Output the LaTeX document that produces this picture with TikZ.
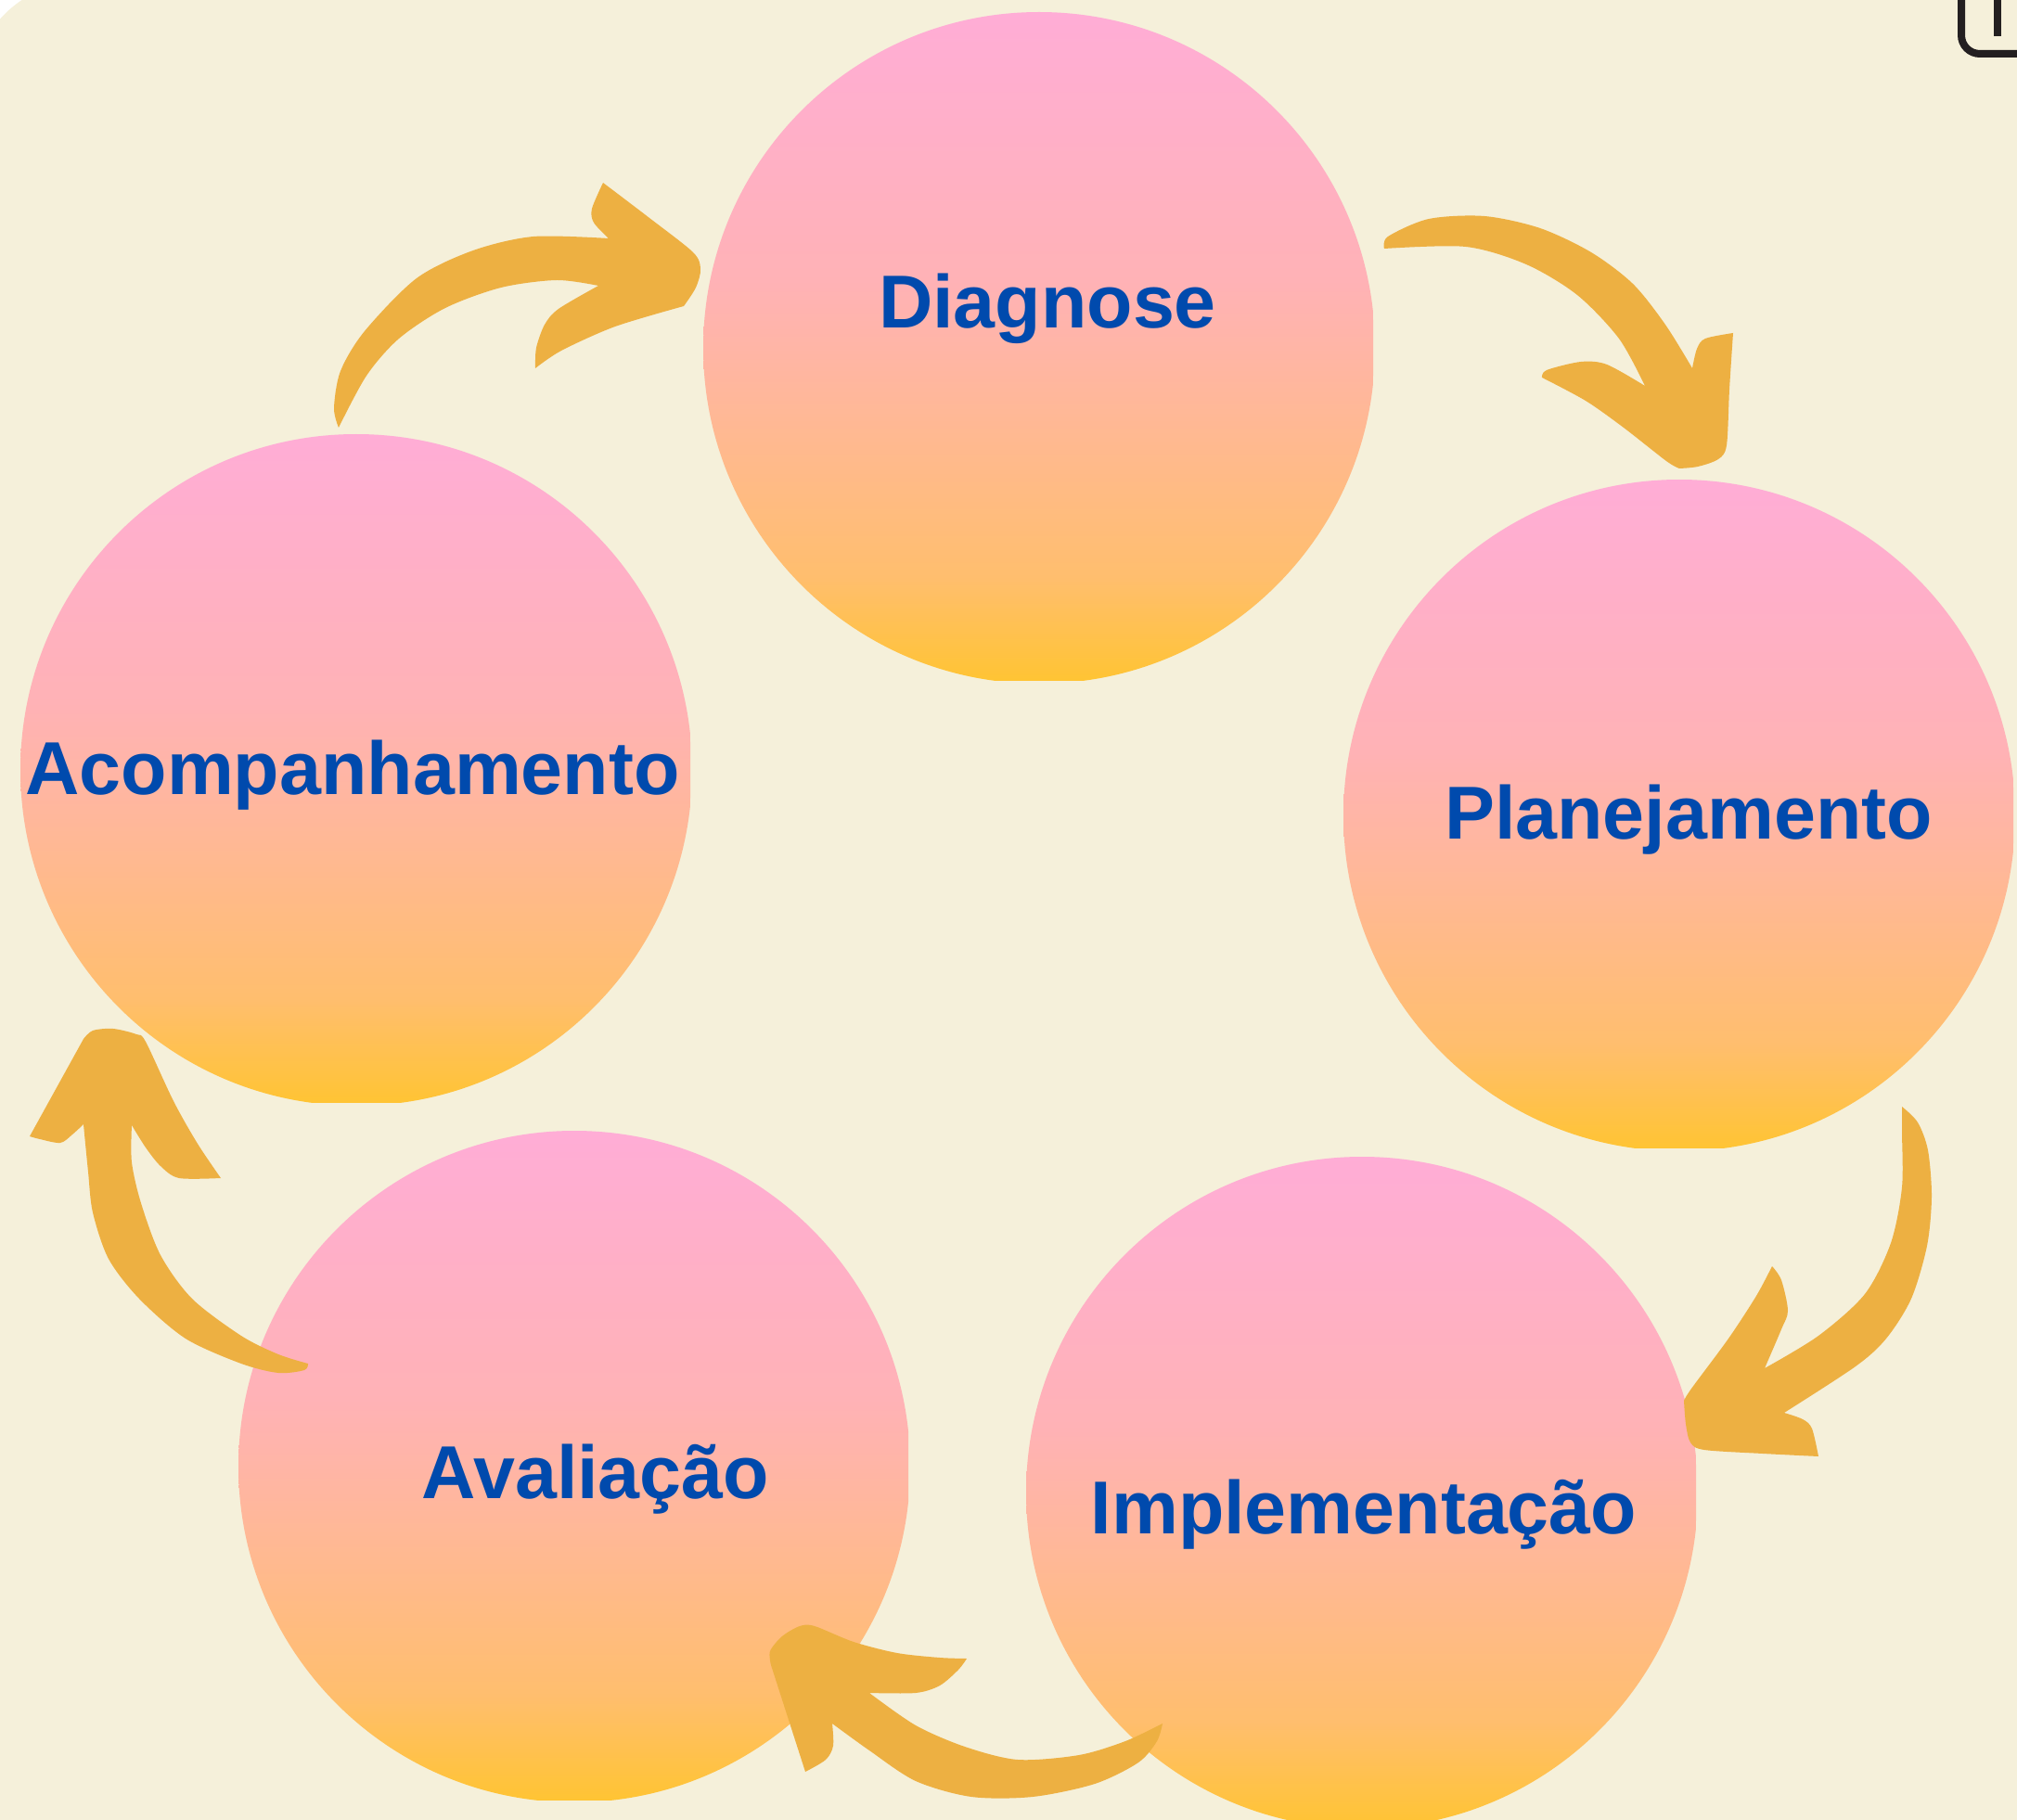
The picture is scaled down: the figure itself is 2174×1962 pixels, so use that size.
\documentclass[tikz,border=0pt]{standalone}
\usepackage{fontspec}
\setmainfont{Liberation Sans}
\usetikzlibrary{positioning}
\definecolor{bgcream}{RGB}{245,240,218}
\definecolor{bubpink}{RGB}{255,173,214}
\definecolor{bubrose}{RGB}{255,178,182}
\definecolor{bubpeach}{RGB}{255,184,150}
\definecolor{buborange}{RGB}{255,190,110}
\definecolor{bubyellow}{RGB}{255,196,50}
\definecolor{arrowgold}{RGB}{237,176,66}
\definecolor{labelblue}{RGB}{0,74,173}
\definecolor{icongray}{RGB}{35,31,32}
\pgfdeclareverticalshading{bubbleshade}{100bp}{color(0bp)=(bubyellow); color(25bp)=(bubyellow); color(33bp)=(buborange); color(45bp)=(bubpeach); color(55bp)=(bubrose); color(75bp)=(bubpink); color(100bp)=(bubpink)}
\tikzset{
  bubble/.style={rectangle, minimum width=72.2mm, minimum height=72.1mm, inner sep=0pt,
    path picture={\shade[shading=bubbleshade] ([xshift=36.2mm,yshift=-36.2mm]path picture bounding box.north west) circle [radius=36.2mm];}},
  stage/.style={anchor=base, inner sep=0pt, text=labelblue, font=\fontsize{23}{27}\selectfont\bfseries},
  swoosh/.style={fill=arrowgold},
  icon/.style={draw=icongray, line width=0.8mm},
}

\begin{document}
\begin{tikzpicture}[x=0.1mm, y=-0.1mm]
  \useasboundingbox (0,0) rectangle (2174,1962);
  \clip (0,0) rectangle (2174,1962);
  \fill[white] (0,0) rectangle (2174,1962);
  \fill[bgcream, rounded corners=12mm] (-30,-20) rectangle (2300,2100);

  \node[bubble] (diag) at (1119,373.5) {};
  \node[bubble] (plan) at (1809,877.5) {};
  \node[bubble] (impl) at (1467,1607.5) {};
  \node[bubble] (aval) at (618,1579.5) {};
  \node[bubble] (acomp) at (383,828.5) {};

  \fill[swoosh] plot[smooth] coordinates {(365,461) (360,440) (367,400) (393,357) (449,300) (510,270) (575,255) (656,257)}
    -- plot[smooth] coordinates {(656,257) (640,240) (638,225) (650,197)}
    -- plot[smooth] coordinates {(650,197) (700,235) (747,272) (755,290) (750,310) (737,330)}
    -- plot[smooth] coordinates {(737,330) (663,352) (605,378) (577,397)}
    -- plot[smooth] coordinates {(577,397) (578,375) (587,350) (602,333) (645,308)}
    -- plot[smooth] coordinates {(645,308) (600,302) (540,310) (480,332) (430,365) (395,405) (365,461)} -- cycle;

  \fill[swoosh] plot[smooth] coordinates {(1492,268) (1496,255) (1540,236) (1600,233) (1660,246) (1715,272) (1760,306) (1795,350) (1824,397)}
    -- plot[smooth] coordinates {(1824,397) (1829,376) (1838,365) (1868,359)}
    -- plot[smooth] coordinates {(1868,359) (1864,420) (1861,480) (1852,495) (1830,503) (1810,505)}
    -- plot[smooth] coordinates {(1810,505) (1796,497) (1750,461) (1709,432) (1662,407)}
    -- plot[smooth] coordinates {(1662,407) (1667,399) (1704,390) (1732,393) (1773,416)}
    -- plot[smooth] coordinates {(1773,416) (1745,365) (1700,318) (1645,285) (1580,266) (1492,268)} -- cycle;

  \fill[swoosh] plot[smooth] coordinates {(2050,1193) (2067,1210) (2078,1240) (2082,1290) (2077,1343) (2060,1400) (2033,1443) (2000,1473) (1923,1523)}
    -- plot[smooth] coordinates {(1923,1523) (1943,1530) (1953,1540) (1960,1570)}
    -- plot[smooth] coordinates {(1960,1570) (1900,1567) (1837,1563) (1822,1555) (1817,1535) (1815,1510)}
    -- plot[smooth] coordinates {(1815,1510) (1823,1497) (1863,1443) (1893,1397) (1910,1365)}
    -- plot[smooth] coordinates {(1910,1365) (1920,1380) (1927,1413) (1920,1433) (1902,1475)}
    -- plot[smooth] coordinates {(1902,1475) (1960,1440) (2010,1395) (2038,1340) (2050,1280) (2050,1220) (2050,1193)} -- cycle;

  \fill[swoosh] plot[smooth] coordinates {(1253,1858) (1213,1877) (1163,1892) (1097,1897) (1040,1883) (987,1860) (937,1825)}
    -- plot[smooth] coordinates {(937,1825) (987,1825) (1013,1817) (1033,1800) (1042,1788)}
    -- plot[smooth] coordinates {(1042,1788) (1013,1787) (967,1782) (920,1770) (878,1753) (862,1753) (843,1764) (830,1780) (831,1795)}
    -- (868,1910)
    -- plot[smooth] coordinates {(868,1910) (890,1897) (898,1882) (897,1858)}
    -- plot[smooth] coordinates {(897,1858) (937,1887) (987,1920) (1047,1937) (1113,1937) (1180,1923) (1227,1900) (1247,1877) (1253,1858)} -- cycle;

  \fill[swoosh] plot[smooth] coordinates {(332,1470) (300,1460) (260,1440) (207,1400) (173,1353) (152,1297) (142,1253) (142,1213)}
    -- plot[smooth] coordinates {(142,1213) (157,1237) (173,1257) (193,1270) (238,1270)}
    -- plot[smooth] coordinates {(238,1270) (213,1233) (187,1187) (157,1123) (147,1115) (122,1109) (100,1111) (90,1120)}
    -- (32,1225)
    -- plot[smooth] coordinates {(32,1225) (43,1228) (65,1232) (78,1223) (90,1212)}
    -- plot[smooth] coordinates {(90,1212) (95,1263) (100,1307) (117,1357) (150,1400) (200,1443) (260,1470) (300,1480) (328,1477) (332,1470)} -- cycle;

  \node[stage] (diaglabel) at (1129,354) {Diagnose};
  \node[stage] (planlabel) at (1820,905) {Planejamento};
  \node[stage] (impllabel) at (1470,1653) {Implementação};
  \node[stage] (avallabel) at (642,1615) {Avaliação};
  \node[stage] (acomplabel) at (380,857) {Acompanhamento};

  \draw[icon, rounded corners=2mm] (2114,-20) -- (2114,58) -- (2200,58);
  \draw[icon] (2153,-10) -- (2153,39);
\end{tikzpicture}
\end{document}
